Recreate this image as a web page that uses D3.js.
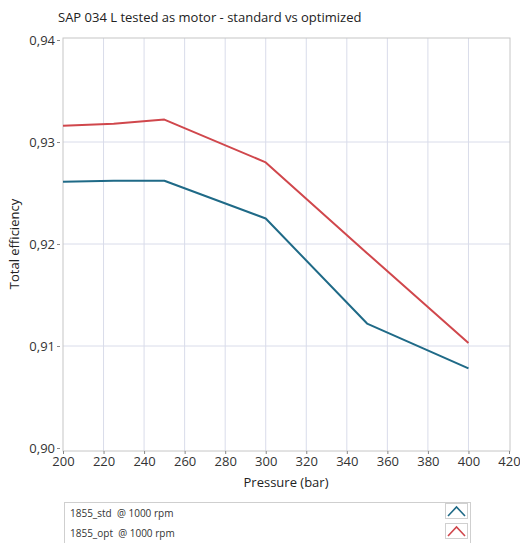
<!DOCTYPE html>
<html>
<head>
<meta charset="utf-8">
<script src="https://cdn.jsdelivr.net/npm/d3@7"></script>
<style>
  html, body { margin: 0; padding: 0; background: #fff; }
  svg { display: block; font-family: "Open Sans", "Noto Sans", sans-serif; }
</style>
</head>
<body>
<svg id="chart" width="520" height="543"></svg>
<script>
// Pressure test points (bar)
const pressure = [200, 225, 250, 300, 350, 400];
// Total efficiency, standard unit
const effStd = [0.9261, 0.9262, 0.9262, 0.9225, 0.9122, 0.9078];
// Total efficiency, optimized unit
const effOpt = [0.9316, 0.9318, 0.9322, 0.9280, 0.9191, 0.9103];

const xTicks = [200, 220, 240, 260, 280, 300, 320, 340, 360, 380, 400, 420];
const yTicks = [0.90, 0.91, 0.92, 0.93, 0.94];

const seriesNames = ["1855_std  @ 1000 rpm", "1855_opt  @ 1000 rpm"];
const seriesColors = ["#1f6a87", "#d0474c"];

const svg = d3.select("#chart");
const plotL = 63, plotR = 509, plotT = 40, plotB = 448;

const x = d3.scaleLinear().domain([200, 420]).range([plotL, plotR]);
const y = d3.scaleLinear().domain([0.90, 0.94]).range([plotB, plotT]);

const locale = d3.formatLocale({ decimal: ",", thousands: ".", grouping: [3], currency: ["", ""] });
const fmtY = locale.format(".2f");

// Title
svg.append("text")
  .attr("x", 58).attr("y", 22)
  .attr("font-size", 13).attr("fill", "#222")
  .text("SAP 034 L tested as motor - standard vs optimized");

// Grid lines
const grid = svg.append("g");
grid.selectAll("line.v").data(xTicks.slice(1, -1)).join("line")
  .attr("x1", d => x(d)).attr("x2", d => x(d))
  .attr("y1", plotT - 2).attr("y2", plotB + 3)
  .attr("stroke", "#d9dcea").attr("stroke-width", 1);
grid.selectAll("line.h").data(yTicks.slice(1, -1)).join("line")
  .attr("x1", plotL).attr("x2", plotR + 1)
  .attr("y1", d => y(d)).attr("y2", d => y(d))
  .attr("stroke", "#d9dcea").attr("stroke-width", 1);

// Plot frame
svg.append("rect")
  .attr("x", plotL).attr("y", plotT - 2)
  .attr("width", plotR - plotL + 1).attr("height", plotB - plotT + 5)
  .attr("fill", "none").attr("stroke", "#c6c6c6").attr("stroke-width", 1);

// X axis
const xAxis = svg.append("g")
  .attr("transform", `translate(0,${plotB + 3})`)
  .call(d3.axisBottom(x).tickValues(xTicks).tickSize(3).tickPadding(3).tickFormat(d3.format("d")));
xAxis.select(".domain").remove();
xAxis.selectAll(".tick line").attr("stroke", "#888");
xAxis.selectAll("text").attr("font-size", 13).attr("fill", "#333")
  .attr("font-family", "\"Open Sans\", \"Noto Sans\", sans-serif");

// Y axis
const yAxis = svg.append("g")
  .attr("transform", `translate(${plotL - 3},0)`)
  .call(d3.axisLeft(y).tickValues(yTicks).tickSize(3).tickPadding(2).tickFormat(fmtY));
yAxis.select(".domain").remove();
yAxis.selectAll(".tick line").attr("stroke", "#888");
yAxis.selectAll("text").attr("font-size", 13).attr("fill", "#333")
  .attr("font-family", "\"Open Sans\", \"Noto Sans\", sans-serif");

// Axis titles
svg.append("text")
  .attr("x", (plotL + plotR) / 2).attr("y", 487)
  .attr("text-anchor", "middle").attr("font-size", 13).attr("fill", "#222")
  .text("Pressure (bar)");
svg.append("text")
  .attr("transform", `translate(19,${(plotT + plotB) / 2}) rotate(-90)`)
  .attr("text-anchor", "middle").attr("font-size", 13).attr("fill", "#222")
  .text("Total efficiency");

// Series lines
const line = d3.line().x(d => x(d[0])).y(d => y(d[1]));
[effStd, effOpt].forEach((vals, i) => {
  svg.append("path")
    .datum(pressure.map((p, j) => [p, vals[j]]))
    .attr("d", line)
    .attr("fill", "none")
    .attr("stroke", seriesColors[i])
    .attr("stroke-width", 2)
    .attr("stroke-linejoin", "round");
});

// Legend
const lg = svg.append("g");
lg.append("rect")
  .attr("x", 64.5).attr("y", 502.5).attr("width", 406).attr("height", 48)
  .attr("fill", "#fff").attr("stroke", "#cfcfcf");
seriesNames.forEach((name, i) => {
  const cy = 513 + i * 20;
  lg.append("text")
    .attr("x", 70).attr("y", cy + 3.5)
    .attr("font-size", 10).attr("fill", "#333")
    .style("white-space", "pre")
    .text(name);
  lg.append("rect")
    .attr("x", 445.5).attr("y", cy - 9.5).attr("width", 22).attr("height", 15)
    .attr("fill", "#fff").attr("stroke", "#d0d0d0");
  lg.append("path")
    .attr("d", `M448,${cy + 3} L456.5,${cy - 6} L465,${cy + 3}`)
    .attr("fill", "none").attr("stroke", seriesColors[i]).attr("stroke-width", 1.6);
});
</script>
</body>
</html>
